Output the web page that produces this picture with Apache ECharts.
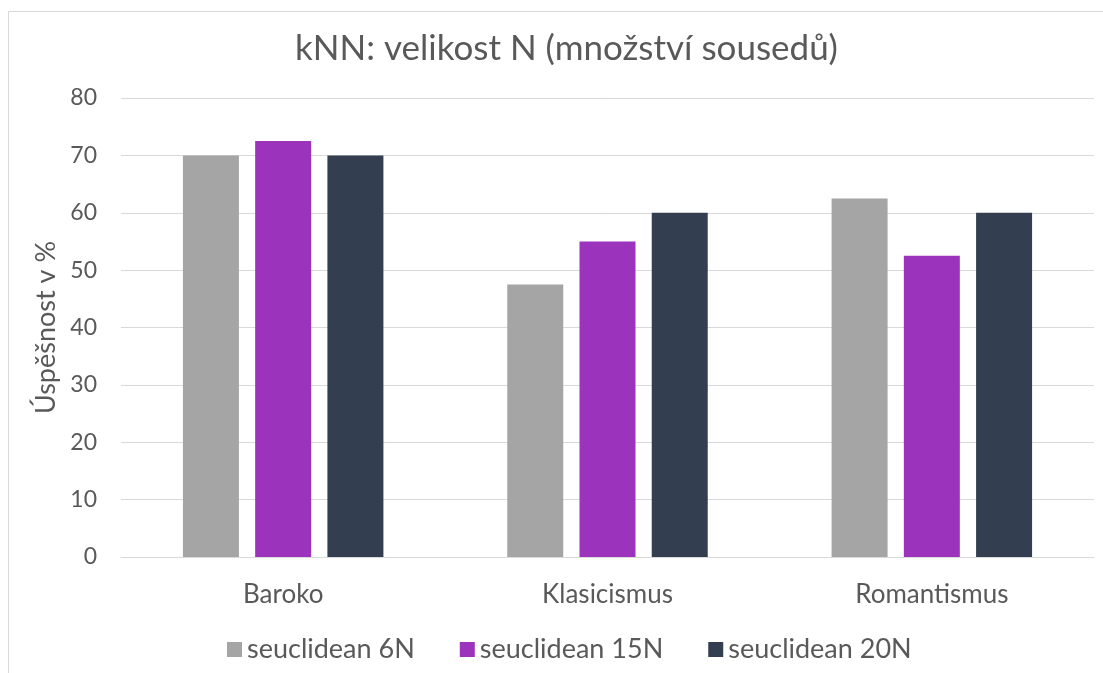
<!DOCTYPE html>
<html>
<head>
<meta charset="utf-8">
<script src="https://cdn.jsdelivr.net/npm/echarts@6/dist/echarts.min.js"></script>
<style>
  html, body { margin: 0; padding: 0; background: #fff; }
  #chart1 { width: 1103px; height: 673px; }
</style>
</head>
<body>
<div id="chart1"></div>
<script>
// data
var categories = ['Baroko', 'Klasicismus', 'Romantismus'];
var seriesNames = ['seuclidean 6N', 'seuclidean 15N', 'seuclidean 20N'];
var values6N = [70, 47.5, 62.5];
var values15N = [72.5, 55, 52.5];
var values20N = [70, 60, 60];
var colors = ['#A5A5A5', '#9C33BC', '#333F50'];

var font = 'Lato, "Open Sans", sans-serif';
var textColor = '#595959';

var myChart1 = echarts.init(document.getElementById('chart1'));

var seriesData = [values6N, values15N, values20N];
var series = seriesNames.map(function (name, i) {
    return {
        name: name,
        type: 'bar',
        data: seriesData[i],
        barWidth: 56,
        barGap: '29%',
        itemStyle: { color: colors[i] }
    };
});

myChart1.setOption({
    animation: false,
    textStyle: { fontFamily: font },
    title: {
        text: 'kNN: velikost N (množství sousedů)',
        left: 290,
        top: 26,
        textStyle: { fontFamily: font, fontSize: 35, fontWeight: 'normal', color: textColor }
    },
    graphic: [{
        type: 'rect',
        shape: { x: 8.5, y: 11.5, width: 1200, height: 800 },
        style: { fill: 'none', stroke: '#d9d9d9', lineWidth: 1 },
        silent: true
    }],
    legend: {
        data: seriesNames,
        left: 222,
        top: 631,
        itemWidth: 15,
        itemHeight: 15,
        itemGap: 45,
        icon: 'rect',
        textStyle: { fontFamily: font, fontSize: 27, color: textColor }
    },
    grid: {
        left: 121,
        right: 9,
        top: 98,
        bottom: 116
    },
    xAxis: {
        type: 'category',
        data: categories,
        axisLine: { lineStyle: { color: '#d9d9d9', width: 1 } },
        axisTick: { show: false },
        axisLabel: { fontFamily: font, fontSize: 26, color: textColor, margin: 25 }
    },
    yAxis: {
        type: 'value',
        min: 0,
        max: 80,
        interval: 10,
        name: 'Úspěšnost v %',
        nameLocation: 'middle',
        nameGap: 58,
        nameTextStyle: { fontFamily: font, fontSize: 27, color: textColor },
        axisLine: { show: false },
        axisTick: { show: false },
        axisLabel: { fontFamily: font, fontSize: 23, color: textColor, margin: 24 },
        splitLine: { lineStyle: { color: '#d9d9d9', width: 1 } }
    },
    series: series
});

window.onresize = function () {
    myChart1.resize();
};
</script>
</body>
</html>
